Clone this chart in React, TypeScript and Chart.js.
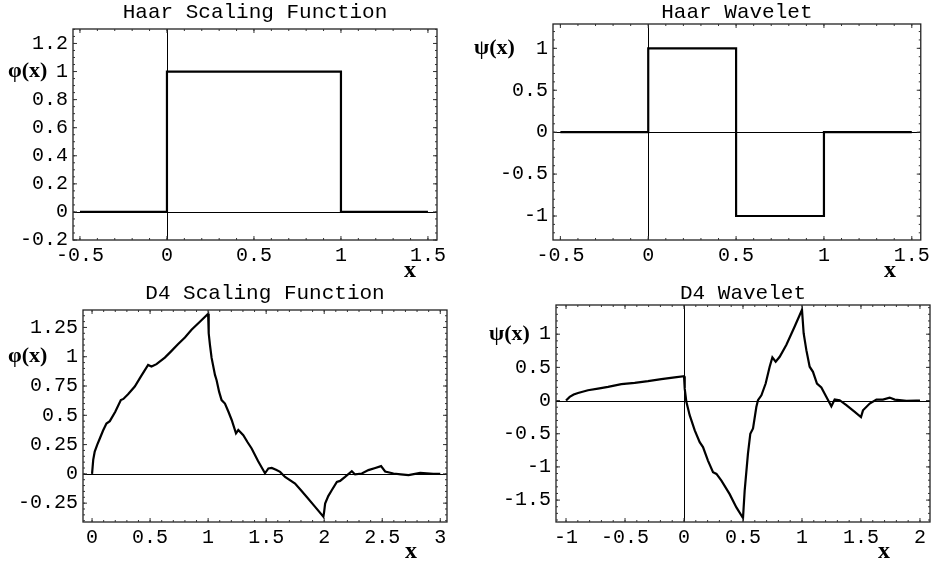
import React, { useEffect, useRef } from "react";
import { Chart, registerables } from "chart.js";

Chart.register(...registerables);

// ---------- data ----------
const HAAR_PHI_X = [-0.5, 0, 0, 1, 1, 1.5];
const HAAR_PHI_Y = [0, 0, 1, 1, 0, 0];

const HAAR_PSI_X = [-0.5, 0, 0, 0.5, 0.5, 1, 1, 1.5];
const HAAR_PSI_Y = [0, 0, 1, 1, -1, -1, 0, 0];

const D4_PHI_X = [
  0, 0.01, 0.023, 0.045, 0.066, 0.095, 0.124, 0.153, 0.2, 0.248, 0.27, 0.31, 0.368, 0.42,
  0.483, 0.512, 0.555, 0.627, 0.685, 0.742, 0.8, 0.857, 0.92, 0.978, 1.0, 1.005, 1.016,
  1.03, 1.059, 1.073, 1.095, 1.116, 1.145, 1.175, 1.203, 1.24, 1.26, 1.303, 1.34, 1.375,
  1.43, 1.49, 1.519, 1.548, 1.585, 1.62, 1.663, 1.749, 1.8, 1.85, 1.92, 1.993, 2.0, 2.008,
  2.035, 2.065, 2.109, 2.137, 2.18, 2.238, 2.266, 2.324, 2.381, 2.44, 2.49, 2.525, 2.597,
  2.66, 2.727, 2.827, 2.94, 3.0,
];
const D4_PHI_Y = [
  0, 0.12, 0.19, 0.25, 0.3, 0.37, 0.43, 0.45, 0.53, 0.63, 0.64, 0.68, 0.745, 0.83,
  0.93, 0.916, 0.937, 0.993, 1.05, 1.108, 1.165, 1.23, 1.29, 1.345, 1.366, 1.2, 1.1,
  0.99, 0.845, 0.8, 0.7, 0.63, 0.6, 0.53, 0.46, 0.346, 0.374, 0.33, 0.27, 0.217,
  0.11, 0.005, 0.046, 0.05, 0.035, 0.017, -0.026, -0.083, -0.14, -0.197, -0.28, -0.366, -0.32, -0.254,
  -0.19, -0.14, -0.068, -0.06, -0.026, 0.023, -0.005, 0.003, 0.032, 0.05, 0.066, 0.02, 0.003,
  -0.004, -0.011, 0.009, 0.0, 0.0,
];

const D4_PSI_X = [
  -1, -0.969, -0.935, -0.898, -0.814, -0.729, -0.644, -0.531, -0.418, -0.305, -0.192, -0.079,
  0.0, 0.006, 0.02, 0.048, 0.091, 0.133, 0.161, 0.203, 0.246, 0.275, 0.317, 0.387, 0.444,
  0.5, 0.514, 0.542, 0.562, 0.585, 0.613, 0.627, 0.656, 0.692, 0.726, 0.749, 0.777, 0.811,
  0.868, 0.938, 1.0, 1.014, 1.037, 1.065, 1.093, 1.127, 1.164, 1.207, 1.249, 1.277, 1.319,
  1.376, 1.447, 1.5, 1.517, 1.574, 1.631, 1.686, 1.743, 1.786, 1.885, 1.97, 2.0,
];
const D4_PSI_Y = [
  0, 0.055, 0.09, 0.115, 0.156, 0.18, 0.206, 0.247, 0.267, 0.292, 0.323, 0.348,
  0.366, 0.18, -0.02, -0.22, -0.45, -0.627, -0.7, -0.905, -1.08, -1.106, -1.208, -1.41, -1.61,
  -1.77, -1.36, -0.8, -0.5, -0.42, -0.097, 0.005, 0.08, 0.257, 0.51, 0.65, 0.585, 0.66,
  0.84, 1.115, 1.368, 1.015, 0.76, 0.51, 0.433, 0.257, 0.197, 0.055, -0.086, 0.015, 0.005,
  -0.07, -0.17, -0.248, -0.147, -0.045, 0.015, 0.015, 0.045, 0.015, -0.006, 0, 0,
];

// ---------- ticks ----------
const HAAR_X_TICKS = [-0.5, 0, 0.5, 1, 1.5];
const HAAR_PHI_Y_TICKS = [-0.2, 0, 0.2, 0.4, 0.6, 0.8, 1, 1.2];
const HAAR_PSI_Y_TICKS = [-1, -0.5, 0, 0.5, 1];
const D4_PHI_X_TICKS = [0, 0.5, 1, 1.5, 2, 2.5, 3];
const D4_PHI_Y_TICKS = [-0.25, 0, 0.25, 0.5, 0.75, 1, 1.25];
const D4_PSI_X_TICKS = [-1, -0.5, 0, 0.5, 1, 1.5, 2];
const D4_PSI_Y_TICKS = [-1.5, -1, -0.5, 0, 0.5, 1];

const TITLES = ["Haar Scaling Function", "Haar Wavelet", "D4 Scaling Function", "D4 Wavelet"];
const Y_LABELS = ["φ(x)", "ψ(x)", "φ(x)", "ψ(x)"];
const X_LABEL = "x";

// ---------- panel layout ----------
const W = 467;
const H = 281;
const MONO = '"Liberation Mono", "Courier New", monospace';
const SERIF = '"Liberation Serif", "Times New Roman", serif';

type PanelCfg = {
  left: number;
  top: number;
  area: { l: number; t: number; r: number; b: number };
  xs: number[];
  ys: number[];
  xRange: [number, number];
  yRange: [number, number];
  xTicks: number[];
  yTicks: number[];
  xMinor: number;
  yMinor: number;
  title: string;
  yLabel: string;
  yLabelX: number;
  xLabelX: number;
  vAxis: boolean;
};

const PANELS: PanelCfg[] = [
  {
    left: 0, top: 0,
    area: { l: 73, t: 29, r: 437, b: 240 },
    xs: HAAR_PHI_X, ys: HAAR_PHI_Y,
    xRange: [-0.54, 1.552], yRange: [-0.2, 1.303],
    xTicks: HAAR_X_TICKS, yTicks: HAAR_PHI_Y_TICKS, xMinor: 5, yMinor: 4,
    title: TITLES[0], yLabel: Y_LABELS[0], yLabelX: 8, xLabelX: 410, vAxis: true,
  },
  {
    left: 467, top: 0,
    area: { l: 86, t: 24, r: 459, b: 240 },
    xs: HAAR_PSI_X, ys: HAAR_PSI_Y,
    xRange: [-0.542, 1.551], yRange: [-1.286, 1.29],
    xTicks: HAAR_X_TICKS, yTicks: HAAR_PSI_Y_TICKS, xMinor: 5, yMinor: 5,
    title: TITLES[1], yLabel: Y_LABELS[1], yLabelX: 7, xLabelX: 423, vAxis: true,
  },
  {
    left: 0, top: 281,
    area: { l: 83, t: 29, r: 447, b: 241 },
    xs: D4_PHI_X, ys: D4_PHI_Y,
    xRange: [-0.078, 3.058], yRange: [-0.411, 1.399],
    xTicks: D4_PHI_X_TICKS, yTicks: D4_PHI_Y_TICKS, xMinor: 5, yMinor: 5,
    title: TITLES[2], yLabel: Y_LABELS[2], yLabelX: 8, xLabelX: 411, vAxis: false,
  },
  {
    left: 467, top: 281,
    area: { l: 89, t: 24, r: 463, b: 241 },
    xs: D4_PSI_X, ys: D4_PSI_Y,
    xRange: [-1.085, 2.085], yRange: [-1.83, 1.44],
    xTicks: D4_PSI_X_TICKS, yTicks: D4_PSI_Y_TICKS, xMinor: 5, yMinor: 5,
    title: TITLES[3], yLabel: Y_LABELS[3], yLabelX: 22, xLabelX: 417, vAxis: true,
  },
];

function minorValues(ticks: number[], n: number, min: number, max: number): number[] {
  const step = (ticks[1] - ticks[0]) / n;
  const out: number[] = [];
  const start = Math.ceil(min / step - 1e-9);
  for (let k = start; k * step <= max + 1e-9; k++) out.push(k * step);
  return out;
}

function makeDecor(cfg: PanelCfg) {
  return {
    id: "decor",
    beforeDatasetsDraw(chart: any) {
      const { ctx, chartArea: a, scales } = chart;
      const x = scales.x;
      const y = scales.y;
      ctx.save();
      ctx.strokeStyle = "#000";
      ctx.lineWidth = 1;
      const y0 = Math.round(y.getPixelForValue(0)) + 0.5;
      ctx.beginPath();
      ctx.moveTo(a.left, y0);
      ctx.lineTo(a.right, y0);
      ctx.stroke();
      if (cfg.vAxis) {
        const x0 = Math.round(x.getPixelForValue(0)) + 0.5;
        ctx.beginPath();
        ctx.moveTo(x0, a.top);
        ctx.lineTo(x0, a.bottom);
        ctx.stroke();
      }
      ctx.restore();
    },
    afterDraw(chart: any) {
      const { ctx, chartArea: a, scales } = chart;
      const x = scales.x;
      const y = scales.y;
      ctx.save();
      // frame
      ctx.strokeStyle = "#222";
      ctx.lineWidth = 1.3;
      ctx.strokeRect(a.left, a.top, a.right - a.left, a.bottom - a.top);
      // ticks (inward, all four sides)
      ctx.lineWidth = 1;
      ctx.strokeStyle = "#333";
      const drawX = (v: number, len: number) => {
        const px = x.getPixelForValue(v);
        ctx.beginPath();
        ctx.moveTo(px, a.bottom);
        ctx.lineTo(px, a.bottom - len);
        ctx.moveTo(px, a.top);
        ctx.lineTo(px, a.top + len);
        ctx.stroke();
      };
      const drawY = (v: number, len: number) => {
        const py = y.getPixelForValue(v);
        ctx.beginPath();
        ctx.moveTo(a.left, py);
        ctx.lineTo(a.left + len, py);
        ctx.moveTo(a.right, py);
        ctx.lineTo(a.right - len, py);
        ctx.stroke();
      };
      minorValues(cfg.xTicks, cfg.xMinor, cfg.xRange[0], cfg.xRange[1]).forEach((v) => drawX(v, 2));
      minorValues(cfg.yTicks, cfg.yMinor, cfg.yRange[0], cfg.yRange[1]).forEach((v) => drawY(v, 2));
      cfg.xTicks.forEach((v) => drawX(v, 4));
      cfg.yTicks.forEach((v) => drawY(v, 4));
      // title
      ctx.fillStyle = "#000";
      ctx.font = `21px ${MONO}`;
      ctx.textAlign = "center";
      ctx.textBaseline = "middle";
      ctx.fillText(cfg.title, (a.left + a.right) / 2, 12);
      // y label at value 1
      ctx.font = `bold 22px ${SERIF}`;
      ctx.textAlign = "left";
      ctx.textBaseline = "middle";
      ctx.fillText(cfg.yLabel, cfg.yLabelX, y.getPixelForValue(1));
      // x label
      ctx.font = `bold 24px ${SERIF}`;
      ctx.textAlign = "center";
      ctx.textBaseline = "alphabetic";
      ctx.fillText(X_LABEL, cfg.xLabelX, 277);
      ctx.restore();
    },
  };
}

function Panel({ cfg }: { cfg: PanelCfg }) {
  const ref = useRef<HTMLCanvasElement>(null);
  useEffect(() => {
    const canvas = ref.current;
    if (!canvas) return;
    const chart = new Chart(canvas, {
      type: "line",
      data: {
        datasets: [
          {
            data: cfg.xs.map((xv, i) => ({ x: xv, y: cfg.ys[i] })),
            borderColor: "#000",
            borderWidth: 2.2,
            pointRadius: 0,
            tension: 0,
            fill: false,
          },
        ],
      },
      options: {
        responsive: false,
        animation: false,
        devicePixelRatio: 1,
        events: [],
        layout: {
          padding: { left: 0, top: cfg.area.t, right: W - cfg.area.r, bottom: 0 },
        },
        plugins: { legend: { display: false }, title: { display: false }, tooltip: { enabled: false } },
        scales: {
          x: {
            type: "linear",
            position: "bottom",
            min: cfg.xRange[0],
            max: cfg.xRange[1],
            grid: { display: false, drawTicks: false },
            border: { display: false },
            afterBuildTicks: (s: any) => {
              s.ticks = cfg.xTicks.map((v) => ({ value: v }));
            },
            afterFit: (s: any) => {
              s.height = H - cfg.area.b;
            },
            ticks: {
              display: true,
              autoSkip: false,
              maxRotation: 0,
              minRotation: 0,
              padding: 4,
              color: "#000",
              font: { family: MONO, size: 20 },
              callback: (v: any) => String(v),
            },
          },
          y: {
            type: "linear",
            position: "left",
            min: cfg.yRange[0],
            max: cfg.yRange[1],
            grid: { display: false, drawTicks: false },
            border: { display: false },
            afterBuildTicks: (s: any) => {
              s.ticks = cfg.yTicks.map((v) => ({ value: v }));
            },
            afterFit: (s: any) => {
              s.width = cfg.area.l;
            },
            ticks: {
              display: true,
              autoSkip: false,
              padding: 5,
              color: "#000",
              font: { family: MONO, size: 20 },
              callback: (v: any) => String(v),
            },
          },
        },
      },
      plugins: [makeDecor(cfg)],
    } as any);
    return () => chart.destroy();
  }, [cfg]);
  return (
    <canvas
      ref={ref}
      width={W}
      height={H}
      style={{ position: "absolute", left: cfg.left, top: cfg.top, width: W, height: H }}
    />
  );
}

export default function App() {
  return (
    <div style={{ position: "absolute", left: 0, top: 0, width: 934, height: 562, background: "#fff" }}>
      {PANELS.map((p, i) => (
        <Panel key={i} cfg={p} />
      ))}
    </div>
  );
}
